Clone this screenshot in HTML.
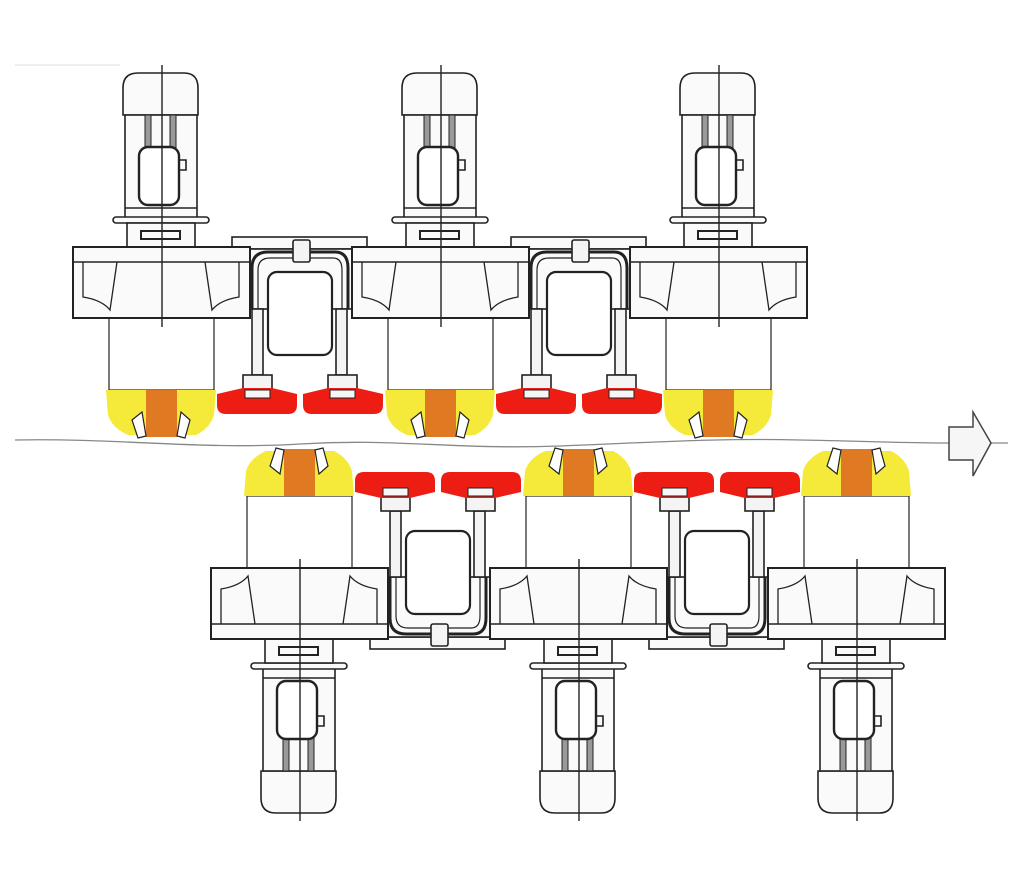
<!DOCTYPE html>
<html><head><meta charset="utf-8"><style>html,body{margin:0;padding:0;background:#fff}svg{display:block}</style></head><body>
<svg width="1024" height="873" viewBox="0 0 1024 873" xmlns="http://www.w3.org/2000/svg">
<defs>
<g id="bridge" stroke="#222" stroke-width="1.6" fill="#fafafa">
  <rect x="232" y="237" width="135" height="12"/>
  <rect x="250" y="249" width="102" height="60"/>
  <path d="M252,309 V268 Q252,252 268,252 H335 Q348,252 348,268 V309" fill="none" stroke-width="3"/>
  <path d="M258,309 V270 Q258,258 270,258 H333 Q342,258 342,270 V309" fill="none" stroke-width="1.2"/>
  <rect x="293" y="240" width="17" height="22" rx="2" fill="#f4f4f4"/>
  <rect x="268" y="272" width="64" height="83" rx="9" fill="#fff" stroke-width="2.2"/>
  <rect x="252" y="309" width="11" height="66" fill="#f4f4f4"/>
  <rect x="336" y="309" width="11" height="66" fill="#f4f4f4"/>
  <rect x="243" y="375" width="29" height="20" fill="#f4f4f4"/>
  <rect x="328" y="375" width="29" height="20" fill="#f4f4f4"/>
  <path d="M217,394 L243,388 H272 L297,394 V405 Q297,414 288,414 H226 Q217,414 217,405 Z" fill="#ee1d14" stroke="none"/>
  <path d="M303,394 L328,388 H357 L383,394 V405 Q383,414 374,414 H312 Q303,414 303,405 Z" fill="#ee1d14" stroke="none"/>
  <rect x="245" y="390" width="25" height="8" fill="#f6f6f6" stroke-width="1"/>
  <rect x="330" y="390" width="25" height="8" fill="#f6f6f6" stroke-width="1"/>
</g>
<g id="unit" stroke="#222" stroke-width="1.6" fill="#fafafa">
  <path d="M123,115 V88 Q123,73 138,73 H184 Q198,73 198,88 V115 Z"/>
  <rect x="125" y="115" width="72" height="103"/>
  <rect x="145" y="115" width="6" height="34" fill="#999" stroke-width="1"/>
  <rect x="170" y="115" width="6" height="34" fill="#999" stroke-width="1"/>
  <line x1="125" y1="208" x2="197" y2="208"/>
  <rect x="139" y="147" width="40" height="58" rx="9" fill="#fff" stroke-width="2.4"/>
  <path d="M179,160 H186 V170 H179" fill="none"/>
  <rect x="113" y="217" width="96" height="6" rx="3"/>
  <rect x="127" y="223" width="68" height="24"/>
  <rect x="141" y="231" width="39" height="8" stroke-width="2"/>
  <rect x="109" y="318" width="105" height="72" fill="#fff" stroke-width="1.2"/>
  <rect x="73" y="247" width="177" height="71" stroke-width="2"/>
  <line x1="73" y1="262" x2="250" y2="262"/>
  <path d="M83,262 V297 Q102,300 110,310 L117,262" fill="none" stroke-width="1.3"/>
  <path d="M239,262 V297 Q220,300 212,310 L205,262" fill="none" stroke-width="1.3"/>
  <path d="M106,390 H216 L214,415 Q210,428 196,435 H128 Q112,428 108,415 Z" fill="#f5ea3a" stroke="none"/>
  <rect x="146" y="390" width="31" height="47" fill="#e07a22" stroke="none"/>
  <path d="M132,420 L142,412 L146,436 L138,438 Z" fill="#fff" stroke-width="1.2"/>
  <path d="M190,420 L181,412 L177,436 L185,438 Z" fill="#fff" stroke-width="1.2"/>
  <line x1="162" y1="65" x2="162" y2="327" stroke-width="1.4"/>
</g>
</defs>
<line x1="15" y1="65" x2="120" y2="65" stroke="#ddd" stroke-width="1"/>
<path d="M15,440 C120,438 200,450 300,444 C400,438 450,450 560,446 C660,442 720,438 800,440 C860,441 900,443 949,443" fill="none" stroke="#888" stroke-width="1.3"/>
<line x1="991" y1="443" x2="1008" y2="443" stroke="#888" stroke-width="1.3"/>
<path d="M949,427 H973 V412 L991,443 L973,476 V460 H949 Z" fill="#f6f6f6" stroke="#444" stroke-width="1.5"/>
<use href="#bridge"/><use href="#bridge" x="279"/>
<use href="#unit"/><use href="#unit" x="279"/><use href="#unit" x="557"/>
<g transform="translate(138,886) scale(1,-1)">
<use href="#bridge"/><use href="#bridge" x="279"/>
<use href="#unit"/><use href="#unit" x="279"/><use href="#unit" x="557"/>
</g>
</svg>
</body></html>
